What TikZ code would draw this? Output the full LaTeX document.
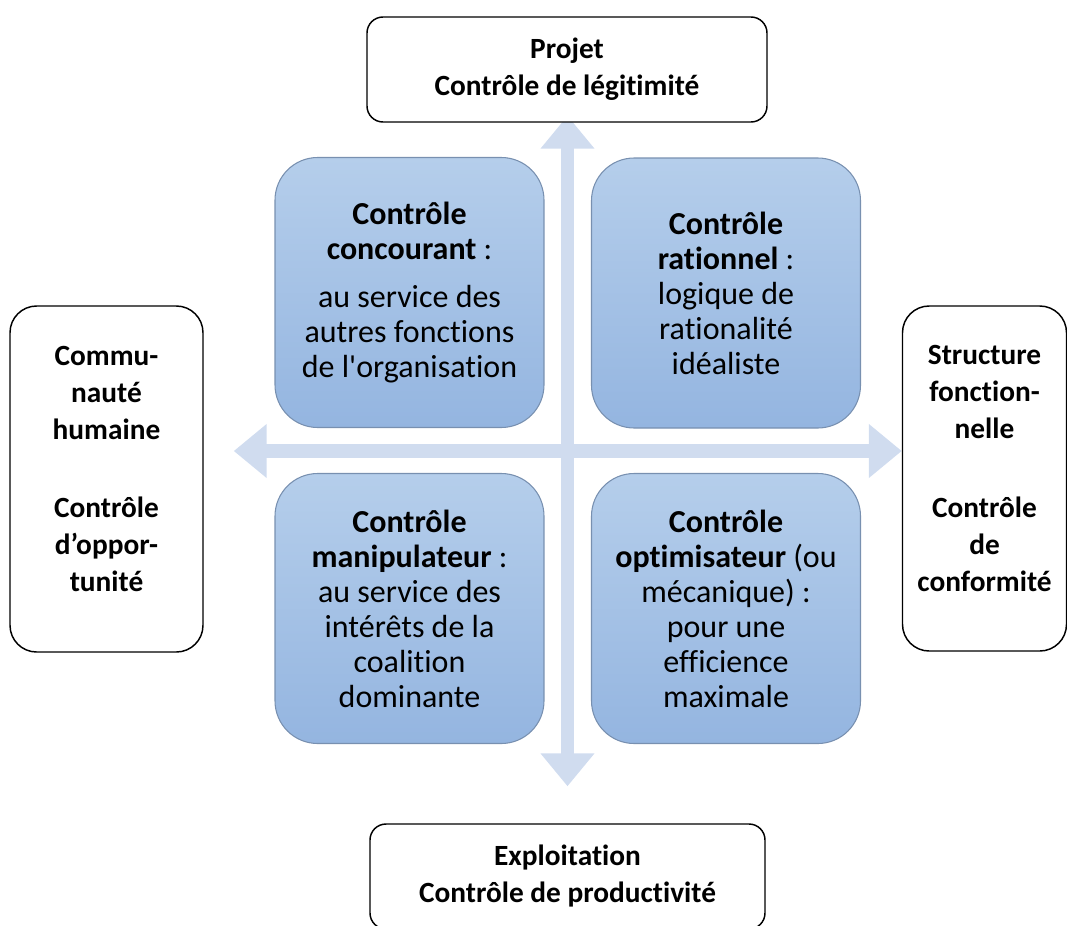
\documentclass[tikz,border=0pt]{standalone}
\usepackage{fontspec}
\setmainfont{Carlito}[Ligatures=NoCommon]
\usetikzlibrary{arrows.meta,backgrounds}
\definecolor{axisblue}{HTML}{D0DCEF}
\definecolor{celltop}{HTML}{B5CEEB}
\definecolor{cellbot}{HTML}{94B5E0}
\definecolor{cellline}{HTML}{7890B0}
\tikzset{
  pole/.style={draw=black, line width=1.1pt, fill=white, inner sep=0pt,
    align=center, font=\bfseries\fontsize{22pt}{27.75pt}\selectfont},
  cell/.style={draw=cellline, line width=0.8pt, top color=celltop,
    bottom color=cellbot, rounded corners=32pt, inner sep=0pt,
    minimum width=201.75pt, minimum height=202.5pt,
    align=center, font=\fontsize{24pt}{26.25pt}\selectfont},
  axis/.style={draw=axisblue, line width=10pt,
    {Triangle[width=39pt,length=24.75pt]}-{Triangle[width=39pt,length=24.75pt]}}
}
\begin{document}
\begin{tikzpicture}[x=0.75pt,y=-0.75pt]
  \useasboundingbox (0,0) rectangle (1067,925);
  \coordinate (hub) at (567.5,451);
  % outer poles
  \node[pole, rounded corners=12pt, minimum width=300pt, minimum height=78.75pt]
    (top) at (567,69.5) {Projet\\Contrôle de légitimité};
  \node[pole, rounded corners=12pt, minimum width=296.25pt, minimum height=78.75pt]
    (bottom) at (567.5,876.5) {Exploitation\\Contrôle de productivité};
  \node[pole, rounded corners=20pt, minimum width=144.75pt, minimum height=259.5pt,
    text depth=15pt]
    (left) at (106.5,479) {Commu-\\nauté\\humaine\\[31pt]Contrôle\\d’oppor-\\tunité};
  \node[pole, rounded corners=20pt, minimum width=123pt, minimum height=258.75pt,
    text depth=15pt]
    (right) at (984.5,478.5) {Structure\\fonction-\\nelle\\[31pt]Contrôle\\de\\conformité};
  % four kinds of control
  \node[cell] (tl) at (409.5,292.5)
    {\textbf{Contrôle}\\\textbf{concourant} :\\[10pt]au service des\\autres fonctions\\de l\textquotesingle organisation};
  \node[cell] (tr) at (726,293)
    {\textbf{Contrôle}\\\textbf{rationnel} :\\logique de\\rationalité\\idéaliste};
  \node[cell] (bl) at (409.5,608.5)
    {\textbf{Contrôle}\\\textbf{manipulateur} :\\au service des\\intérêts de la\\coalition\\dominante};
  \node[cell] (br) at (726,608.5)
    {\textbf{Contrôle}\\\textbf{optimisateur} (ou\\mécanique) :\\pour une\\efficience\\maximale};
  \begin{scope}[on background layer]
    \draw[axis, shorten <=-5.25pt, shorten >=27.75pt] (hub |- top.south) to (hub |- bottom.north);
    \draw[axis, shorten <=22.5pt] (hub -| left.east) to (hub -| right.west);
  \end{scope}
\end{tikzpicture}
\end{document}
